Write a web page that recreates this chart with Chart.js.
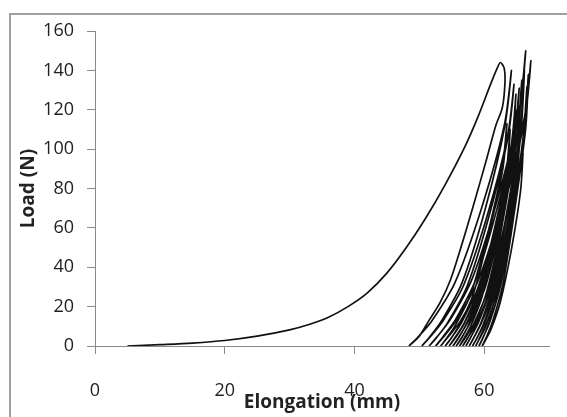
<!DOCTYPE html>
<html>
<head>
<meta charset="utf-8">
<script src="https://cdn.jsdelivr.net/npm/chart.js@4.4.1/dist/chart.umd.min.js"></script>
<style>
  html, body { margin: 0; padding: 0; background: #fff; }
  #wrap { width: 567px; height: 417px; }
</style>
</head>
<body>
<div id="wrap"><canvas id="LoadChart" width="567" height="417"></canvas></div>
<script>
// first (long) loading curve and its unloading
var firstLoadX = [5, 10, 15, 20, 25, 30, 33, 36, 39, 42, 45, 48, 51, 54, 57, 59, 61, 62, 62.5];
var firstLoadY = [0, 0.7, 1.5, 2.8, 5, 8.2, 10.9, 14.6, 20, 27, 37, 50, 65, 82, 101, 116, 133, 141, 144];
var firstUnloadX = [63.1, 63.2, 62.8, 61.8, 60.3, 58.4, 56.6, 54.8, 53.2, 51.5, 50.0, 48.4];
var firstUnloadY = [141, 133, 121, 112, 94, 72, 52, 33.5, 22, 13, 5, 0];

// the following load / unload cycles (foot -> peak -> foot)
var cycleX = [
  [48.4, 49.7, 51.9, 55.5, 59.6, 63.1, 64.2, 63.2, 60.2, 56.6, 53.4, 51.5, 50.4],
  [50.4, 51.5, 53.5, 56.8, 60.5, 63.6, 64.6, 63.7, 60.8, 57.4, 54.4, 52.6, 51.5],
  [51.5, 52.7, 54.8, 58.2, 62.1, 65.4, 66.4, 65.5, 62.4, 58.8, 55.6, 53.6, 52.5],
  [52.5, 53.7, 55.7, 59.1, 62.9, 66.2, 67.2, 66.3, 63.2, 59.6, 56.4, 54.4, 53.3],
  [53.3, 54.1, 55.5, 57.9, 60.5, 62.8, 63.5, 62.9, 60.7, 58.3, 56.1, 54.8, 54.0],
  [54.0, 54.9, 56.5, 59.1, 62.1, 64.6, 65.4, 64.7, 62.3, 59.5, 57.0, 55.5, 54.6],
  [54.6, 55.4, 56.9, 59.2, 61.9, 64.2, 64.9, 64.3, 62.1, 59.6, 57.3, 56.0, 55.2],
  [55.2, 56.0, 57.5, 60.0, 62.7, 65.1, 65.8, 65.2, 62.9, 60.3, 57.9, 56.5, 55.7],
  [55.7, 56.4, 57.5, 59.4, 61.6, 63.4, 64.0, 63.5, 61.7, 59.7, 57.9, 56.8, 56.2],
  [56.2, 57.0, 58.4, 60.6, 63.2, 65.3, 66.0, 65.4, 63.3, 60.9, 58.8, 57.4, 56.7],
  [56.7, 57.4, 58.5, 60.4, 62.6, 64.4, 65.0, 64.5, 62.7, 60.7, 58.9, 57.8, 57.2],
  [57.2, 57.9, 59.2, 61.3, 63.6, 65.6, 66.2, 65.7, 63.7, 61.5, 59.6, 58.4, 57.7],
  [57.7, 58.3, 59.4, 61.3, 63.3, 65.1, 65.6, 65.2, 63.5, 61.5, 59.8, 58.8, 58.2],
  [58.2, 58.9, 60.1, 62.0, 64.2, 66.0, 66.6, 66.1, 64.3, 62.3, 60.4, 59.3, 58.7],
  [58.7, 59.2, 60.2, 61.7, 63.4, 64.8, 65.3, 64.9, 63.5, 62.0, 60.5, 59.7, 59.2],
  [59.2, 59.8, 60.9, 62.6, 64.6, 66.3, 66.8, 66.4, 64.7, 62.9, 61.3, 60.3, 59.7],
  [59.7, 60.2, 61.1, 62.5, 64.2, 65.6, 66.0]
];
var cycleY = [
  [0, 4.2, 12.6, 32.2, 70, 112, 140, 112, 70, 32.2, 12.6, 4.2, 0],
  [0, 4, 12, 30.6, 66.5, 106.4, 133, 106.4, 66.5, 30.6, 12, 4, 0],
  [0, 4.5, 13.5, 34.5, 75, 120, 150, 120, 75, 34.5, 13.5, 4.5, 0],
  [0, 4.4, 13, 33.4, 72.5, 116, 145, 116, 72.5, 33.4, 13, 4.4, 0],
  [0, 3.4, 10.2, 26, 56.5, 90.4, 113, 90.4, 56.5, 26, 10.2, 3.4, 0],
  [0, 3.9, 11.8, 30.1, 65.5, 104.8, 131, 104.8, 65.5, 30.1, 11.8, 3.9, 0],
  [0, 3.8, 11.5, 29.4, 64, 102.4, 128, 102.4, 64, 29.4, 11.5, 3.8, 0],
  [0, 4.1, 12.2, 31.1, 67.5, 108, 135, 108, 67.5, 31.1, 12.2, 4.1, 0],
  [0, 3.3, 9.9, 25.3, 55, 88, 110, 88, 55, 25.3, 9.9, 3.3, 0],
  [0, 3.8, 11.3, 28.8, 62.5, 100, 125, 100, 62.5, 28.8, 11.3, 3.8, 0],
  [0, 3.6, 10.8, 27.6, 60, 96, 120, 96, 60, 27.6, 10.8, 3.6, 0],
  [0, 4.2, 12.6, 32.2, 70, 112, 140, 112, 70, 32.2, 12.6, 4.2, 0],
  [0, 3.5, 10.4, 26.5, 57.5, 92, 115, 92, 57.5, 26.5, 10.4, 3.5, 0],
  [0, 4, 11.9, 30.4, 66, 105.6, 132, 105.6, 66, 30.4, 11.9, 4, 0],
  [0, 3.2, 9.5, 24.4, 53, 84.8, 106, 84.8, 53, 24.4, 9.5, 3.2, 0],
  [0, 4.1, 12.4, 31.7, 69, 110.4, 138, 110.4, 69, 31.7, 12.4, 4.1, 0],
  [0, 2.9, 8.8, 22.5, 49, 78.4, 98]
];

var xTitle = "Elongation (mm)";
var yTitle = "Load (N)";
var xTicks = [0, 20, 40, 60];
var yTicks = [0, 20, 40, 60, 80, 100, 120, 140, 160];

function ToPoints(xs, ys){
	return xs.map(function(x, i) { return {x: x, y: ys[i]}; });
}

// one continuous test record
var Points = ToPoints(firstLoadX, firstLoadY).concat(ToPoints(firstUnloadX, firstUnloadY));
for (var i = 0; i < cycleX.length; i++){
	Points = Points.concat(ToPoints(cycleX[i], cycleY[i]));
}

var FrameAndTitles = {
	id: 'frameAndTitles',
	beforeDraw: function(chart) {
		var ctx = chart.ctx;
		ctx.save();
		ctx.fillStyle = "#fff";
		ctx.fillRect(0, 0, chart.width, chart.height);
		ctx.strokeStyle = "#a0a0a0";
		ctx.lineWidth = 2;
		ctx.strokeRect(10, 14, 700, 500);
		ctx.restore();
	},
	afterDraw: function(chart) {
		var ctx = chart.ctx;
		var area = chart.chartArea;
		ctx.save();
		ctx.fillStyle = "#222";
		ctx.font = "bold 19px 'Open Sans'";
		ctx.textAlign = "center";
		ctx.textBaseline = "alphabetic";
		ctx.fillText(xTitle, area.left + 227, 408);
		ctx.textBaseline = "middle";
		ctx.translate(29, (area.top + area.bottom) / 2);
		ctx.rotate(-Math.PI / 2);
		ctx.fillText(yTitle, 0, 0);
		ctx.restore();
	}
};

new Chart(document.getElementById("LoadChart"), {
	type: 'scatter',
	data: {
		datasets: [{
			label: "Load",
			data: Points,
			showLine: true,
			borderColor: "#111",
			borderWidth: 1.7,
			pointRadius: 0,
			tension: 0.3,
			fill: false
		}]
	},
	options: {
		responsive: false,
		animation: false,
		layout: { padding: { top: 31, right: 18, bottom: 0, left: 0 } },
		plugins: { legend: { display: false }, tooltip: { enabled: false } },
		scales: {
			x: {
				type: 'linear',
				min: 0,
				max: 70,
				afterFit: function(scale) { scale.height = 71; },
				afterBuildTicks: function(scale) { scale.ticks = xTicks.map(function(v) { return {value: v}; }); },
				grid: { drawOnChartArea: false, drawTicks: true, tickLength: 8, color: "#8a8a8a" },
				border: { color: "#8a8a8a", width: 1 },
				ticks: { color: "#222", padding: 26, font: { family: "'Open Sans'", size: 18 }, maxRotation: 0 }
			},
			y: {
				type: 'linear',
				min: 0,
				max: 160,
				afterFit: function(scale) { scale.width = 95; },
				afterBuildTicks: function(scale) { scale.ticks = yTicks.map(function(v) { return {value: v}; }); },
				grid: { drawOnChartArea: false, drawTicks: true, tickLength: 8, color: "#8a8a8a" },
				border: { color: "#8a8a8a", width: 1 },
				ticks: { color: "#222", padding: 13, font: { family: "'Open Sans'", size: 18 } }
			}
		}
	},
	plugins: [FrameAndTitles]
});
</script>
</body>
</html>
